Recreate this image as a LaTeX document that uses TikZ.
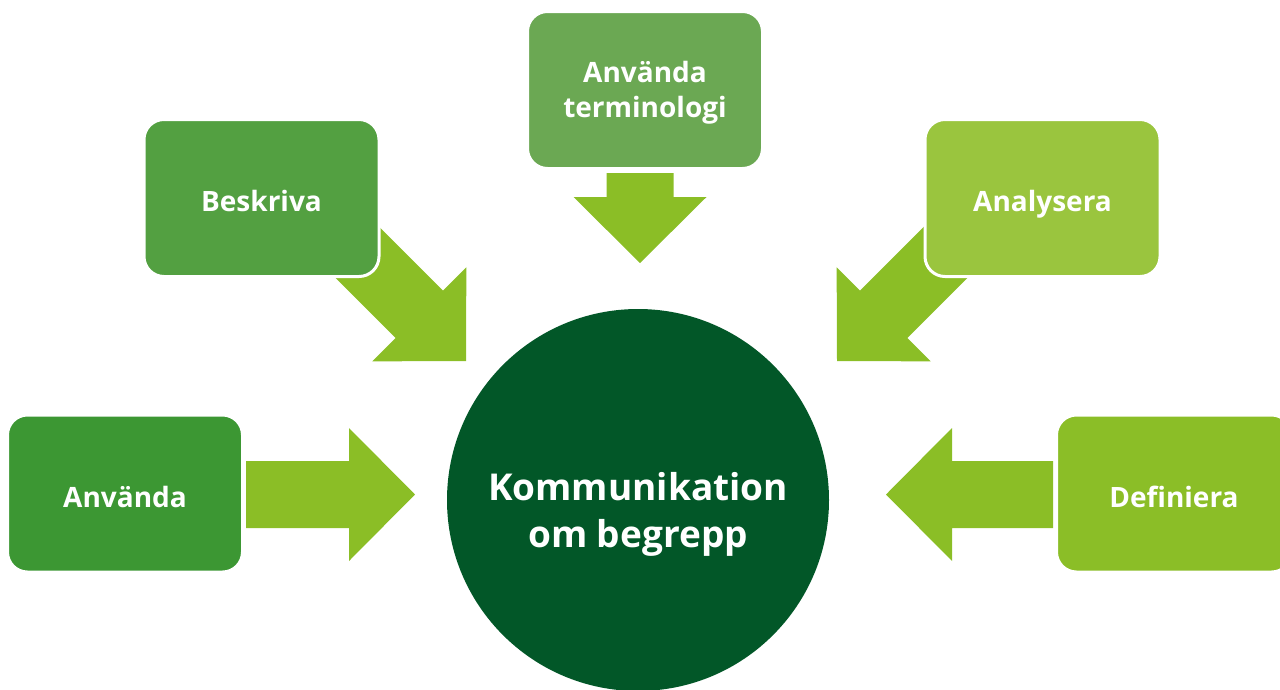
\documentclass[tikz,border=0pt]{standalone}
\usepackage{fontspec}
\setmainfont{Open Sans}
\definecolor{arrowgreen}{RGB}{139,190,38}
\definecolor{hubgreen}{RGB}{2,87,40}
\definecolor{useA}{RGB}{60,151,51}
\definecolor{descB}{RGB}{83,160,65}
\definecolor{termC}{RGB}{107,168,83}
\definecolor{analD}{RGB}{154,197,62}
\definecolor{defE}{RGB}{139,190,39}
\tikzset{
  stepbox/.style={rectangle, rounded corners=20pt, draw=white, line width=3pt,
    minimum width=235pt, minimum height=157pt, inner sep=0pt},
  steplabel/.style={text=white, align=center, inner sep=0pt,
    font=\bfseries\fontsize{28}{35}\selectfont},
  hub/.style={circle, fill=hubgreen, minimum size=382pt, inner sep=0pt},
  hublabel/.style={text=white, align=center, inner sep=0pt,
    font=\bfseries\fontsize{37}{47}\selectfont},
  % block arrow drawn with its tip at the origin, pointing along +x
  pics/blockarrow/.style={code={
    \fill[arrowgreen] (0,0) -- (-66,66.5) -- (-66,33.5) -- (-#1,33.5)
      -- (-#1,-33.5) -- (-66,-33.5) -- (-66,-66.5) -- cycle;}}
}
\begin{document}
\begin{tikzpicture}[x=1pt,y=-1pt]
\useasboundingbox (0,0) rectangle (1280,689);

% arrow tips
\coordinate (tipA) at (415,494.5);
\coordinate (tipB) at (466,361);
\coordinate (tipC) at (640,263);
\coordinate (tipD) at (837,361);
\coordinate (tipE) at (886,494.5);

\pic[rotate=0]    at (tipA) {blockarrow=169};
\pic[rotate=-45]  at (tipB) {blockarrow=169};
\pic[rotate=-90]  at (tipC) {blockarrow=90};
\pic[rotate=-135] at (tipD) {blockarrow=169};
\pic[rotate=180]  at (tipE) {blockarrow=167};

% concept boxes
\node[stepbox, fill=useA]  (use)  at (125,493.5)  {};
\node[stepbox, fill=descB] (desc) at (261.5,198)  {};
\node[stepbox, fill=termC] (term) at (645,90)     {};
\node[stepbox, fill=analD] (anal) at (1042.5,198) {};
\node[stepbox, fill=defE]  (def)  at (1174,493.5) {};

\node[steplabel] (useT)  at ([yshift=-3pt]use.center)  {Använda};
\node[steplabel] (descT) at ([yshift=-3pt]desc.center) {Beskriva};
\node[steplabel] (termT) at ([yshift=-3pt]term.center) {Använda\\terminologi};
\node[steplabel] (analT) at ([yshift=-6pt]anal.center) {Analysera};
\node[steplabel] (defT)  at ([yshift=-3pt]def.center)  {Definiera};

% central circle
\node[hub] (hub) at (638,500) {};
\node[hublabel] (hubT) at ([yshift=-14pt]hub.center) {Kommunikation\\om begrepp};
\end{tikzpicture}
\end{document}
